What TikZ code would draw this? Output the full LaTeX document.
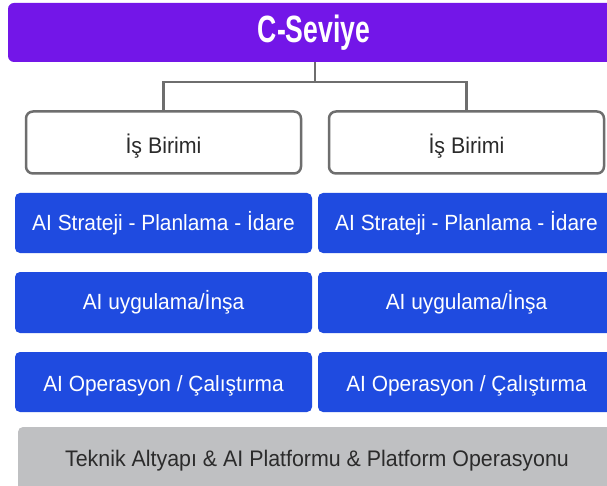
\documentclass[tikz,border=0pt]{standalone}
\usepackage{fontspec}
\setmainfont{Liberation Sans}
\newfontfamily\bodyfont{Liberation Sans}[FakeStretch=0.95]
\definecolor{cpurple}{HTML}{7316E8}
\definecolor{cblue}{HTML}{1F4BE0}
\definecolor{cgray}{HTML}{BFC0C2}
\definecolor{cline}{HTML}{6E6E6E}
\definecolor{ctext}{HTML}{2B2B2B}
\newcommand{\lowered}[2]{\raisebox{-#1}[\height][\depth]{#2}}
\begin{document}
\begin{tikzpicture}[x=1pt,y=-1pt,
  titlebox/.style={fill=cpurple, rounded corners=6pt, minimum width=612pt, minimum height=59pt, inner sep=0pt, text=white, font=\fontsize{38}{40}\selectfont\bfseries},
  unitbox/.style={draw=cline, line width=2.5pt, fill=white, rounded corners=7pt, minimum width=275pt, minimum height=62pt, inner sep=0pt, text=ctext, font=\bodyfont\fontsize{22.5}{24}\selectfont},
  bluebox/.style={fill=cblue, rounded corners=5pt, minimum width=297pt, minimum height=60pt, inner sep=0pt, text=white, font=\bodyfont\fontsize{22}{24}\selectfont},
  graybox/.style={fill=cgray, rounded corners=5pt, minimum width=598pt, minimum height=64pt, inner sep=0pt, text=ctext, font=\bodyfont\fontsize{22.5}{24}\selectfont},
  conn/.style={draw=cline, line width=2.5pt}
]
\clip (0,0) rectangle (607,486);
\fill[white] (0,0) rectangle (607,486);
\node[titlebox] (title) at (314,32.5) {\scalebox{0.7}[1]{C-Seviye}};
\node[unitbox] (u1) at (163.5,142.5) {\lowered{4pt}{İş Birimi}};
\node[unitbox] (u2) at (466.5,142.5) {\lowered{4pt}{İş Birimi}};
\node[bluebox] (s1) at (163.5,223) {AI Strateji - Planlama - İdare};
\node[bluebox] (s2) at (466.5,223) {AI Strateji - Planlama - İdare};
\node[bluebox, minimum height=61pt] (b1) at (163.5,302.5) {AI uygulama/İnşa};
\node[bluebox, minimum height=61pt] (b2) at (466.5,302.5) {AI uygulama/İnşa};
\node[bluebox] (o1) at (163.5,382) {\lowered{4pt}{AI Operasyon / Çalıştırma}};
\node[bluebox] (o2) at (466.5,382) {\lowered{4pt}{AI Operasyon / Çalıştırma}};
\node[graybox] (infra) at (317,459) {\lowered{2pt}{Teknik Altyapı \& AI Platformu \& Platform Operasyonu}};
\coordinate (j) at (315,82);
\draw[conn] (title.south -| j) -- (j);
\draw[conn, line cap=rect] (u1.north) |- (j) -| (u2.north);
\end{tikzpicture}
\end{document}
